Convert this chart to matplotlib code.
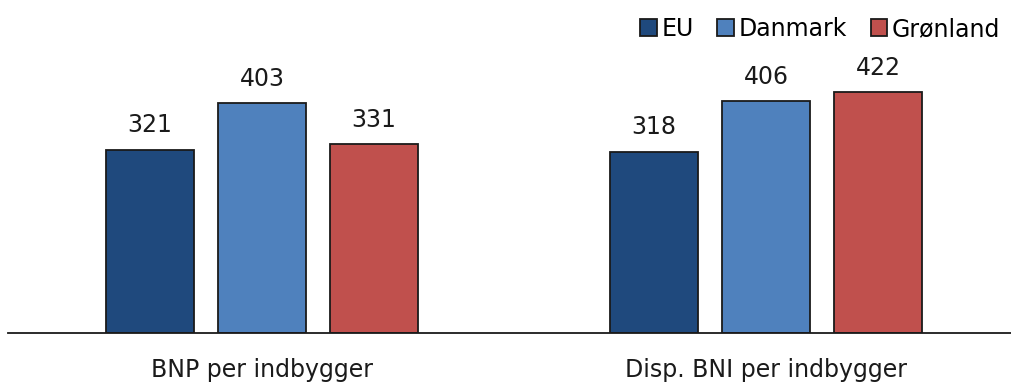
import matplotlib.pyplot as plt
import numpy as np

plt.rcParams['font.family'] = ['DejaVu Sans']

# data
categories = ['BNP per indbygger', 'Disp. BNI per indbygger']
series = ['EU', 'Danmark', 'Grønland']
values = {
    'EU': [321, 318],
    'Danmark': [403, 406],
    'Grønland': [331, 422],
}
colors = {'EU': '#1F497D', 'Danmark': '#4F81BD', 'Grønland': '#C0504D'}

fig = plt.figure(figsize=(10.12, 3.83), dpi=100)
ax = fig.add_axes([8 / 1012, 50 / 383, 1004 / 1012, 333 / 383])

x = np.arange(len(categories))
width = 0.1746
offsets = [-0.2222, 0, 0.2222]

for name, off in zip(series, offsets):
    bars = ax.bar(x + off, values[name], width, color=colors[name],
                  edgecolor='#1a1a1a', linewidth=1.3, label=name)
    for b, v in zip(bars, values[name]):
        ax.annotate(str(v), (b.get_x() + b.get_width() / 2, v),
                    xytext=(0, 9), textcoords='offset points',
                    ha='center', va='bottom', fontsize=17, color='#1a1a1a')

ax.set_xlim(-0.504, 1.488)
ax.set_ylim(0, 584)
ax.set_xticks(x)
ax.set_xticklabels(categories, fontsize=17, color='#1a1a1a')
ax.tick_params(axis='x', length=0, pad=18)
ax.set_yticks([])
for s in ['top', 'right', 'left']:
    ax.spines[s].set_visible(False)
ax.spines['bottom'].set_linewidth(1.3)
ax.spines['bottom'].set_color('#1a1a1a')

leg = ax.legend(loc='upper right', bbox_to_anchor=(1.0, 0.985), ncol=3,
                frameon=False, fontsize=17, handlelength=0.7, handleheight=0.7,
                handletextpad=0.2, columnspacing=1.0, borderaxespad=0.1)

fig.savefig('out.png', dpi=100)
